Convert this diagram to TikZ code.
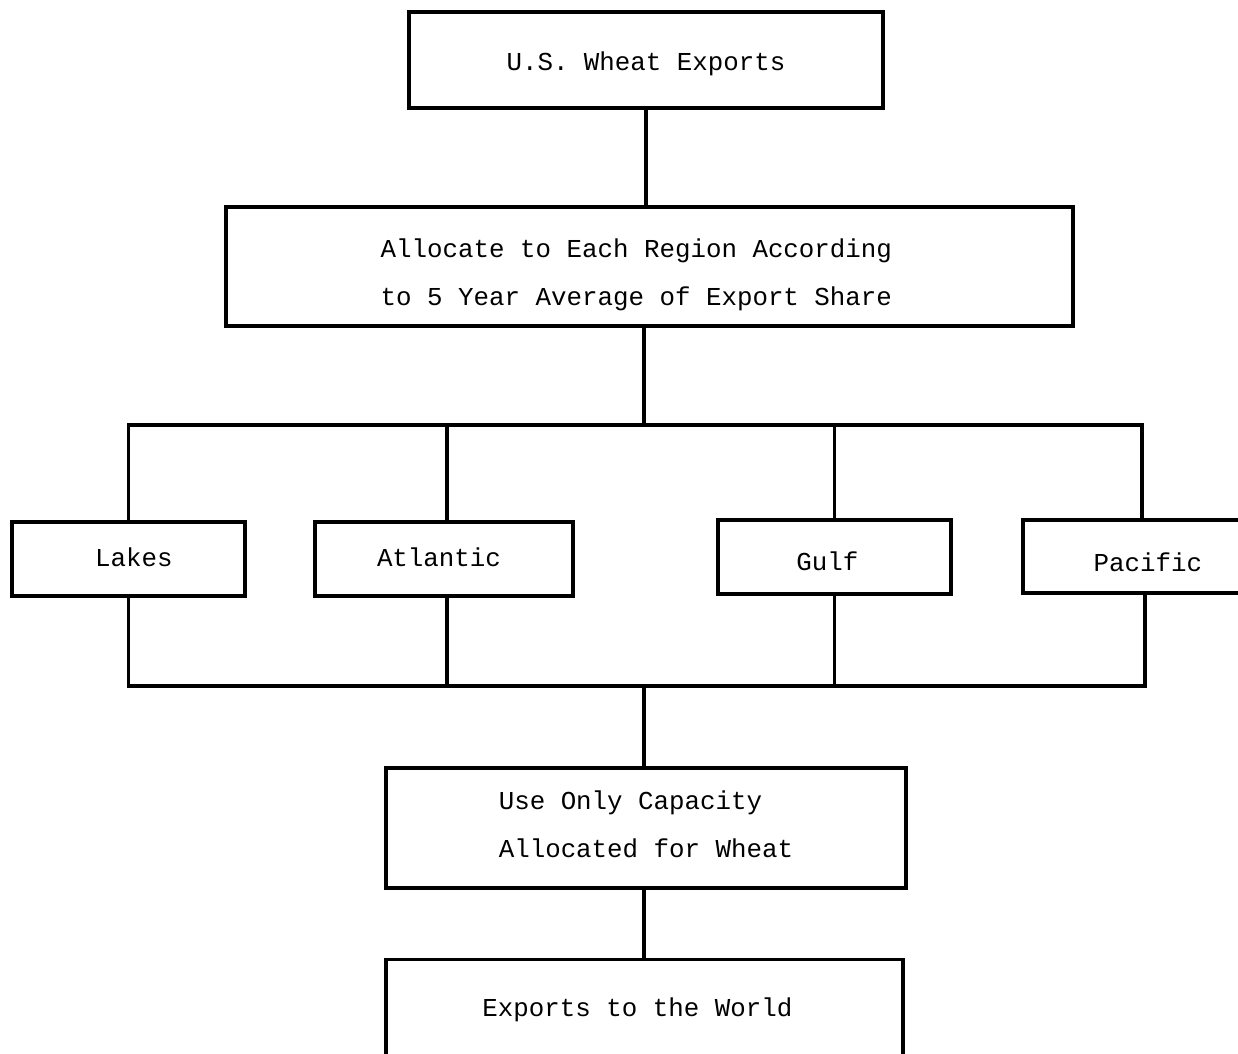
\documentclass[tikz,border=0pt]{standalone}
\usepackage{fontspec}
\newfontfamily\tw{Liberation Mono}
\newcommand{\mv}[2]{\raisebox{#1}[\height][\depth]{#2}}
\begin{document}
\begin{tikzpicture}[x=0.02cm,y=-0.02cm,
  box/.style={draw, line width=2pt, inner sep=0pt, align=center,
    font=\tw\fontsize{14.7}{27.3}\selectfont},
  conn/.style={line width=2pt, line cap=rect}]
\useasboundingbox (0,0) rectangle (1238,1054);
% boxes
\node[box, minimum width=9.48cm, minimum height=1.92cm] (top) at (646,60) {\mv{-2.3pt}{U.S. Wheat Exports}};
\node[box, minimum width=16.94cm, minimum height=2.38cm] (alloc) at (649.5,266.5)
  {\mv{-4.5pt}{Allocate to Each Region According}\hspace*{15pt}\\\mv{-4.5pt}{to 5 Year Average of Export Share}\hspace*{15pt}};
\node[box, minimum width=4.66cm, minimum height=1.48cm] (lakes) at (128.5,559) {\hspace*{6pt}\mv{1pt}{Lakes}};
\node[box, minimum width=5.16cm, minimum height=1.48cm] (atl) at (444,559) {\mv{0.8pt}{Atlantic}\hspace*{5.7pt}};
\node[box, minimum width=4.66cm, minimum height=1.48cm] (gulf) at (834.5,557) {\mv{-2.3pt}{Gulf}\hspace*{8pt}};
\node[box, minimum width=4.5cm, minimum height=1.46cm] (pac) at (1135.5,556.5) {\hspace*{14pt}\mv{-3.4pt}{Pacific}};
\node[box, minimum width=10.4cm, minimum height=2.4cm, align=left] (use) at (646,828)
  {\mv{2.3pt}{Use Only Capacity}\\\mv{2.3pt}{Allocated for Wheat}};
\node[box, minimum width=10.34cm, minimum height=2.3cm] (exp) at (644.5,1017)
  {\mv{4pt}{Exports to the World}\hspace*{8pt}};
% bus coordinates
\coordinate (bt) at (644,425);
\coordinate (bb) at (644,686);
\coordinate (pacin) at (1142,520);
\coordinate (pacout) at (1145,593);
% connectors
\draw[conn] (top.south) -- (top.south |- alloc.north);
\draw[conn] (alloc.south -| bt) -- (bt);
\draw[conn] (lakes.north |- bt) -- (pacin |- bt);
\draw[conn] (lakes.north) -- (lakes.north |- bt);
\draw[conn] ([xshift=0.06cm]atl.north) -- ([xshift=0.06cm]atl.north |- bt);
\draw[conn] (gulf.north) -- (gulf.north |- bt);
\draw[conn] (pacin) -- (pacin |- bt);
\draw[conn] (lakes.south) -- (lakes.south |- bb);
\draw[conn] ([xshift=0.06cm]atl.south) -- ([xshift=0.06cm]atl.south |- bb);
\draw[conn] (gulf.south) -- (gulf.south |- bb);
\draw[conn] (pacout) -- (pacout |- bb);
\draw[conn] (lakes.south |- bb) -- (pacout |- bb);
\draw[conn] (bb) -- (use.north -| bb);
\draw[conn] (use.south -| bb) -- (exp.north -| bb);
\end{tikzpicture}
\end{document}
